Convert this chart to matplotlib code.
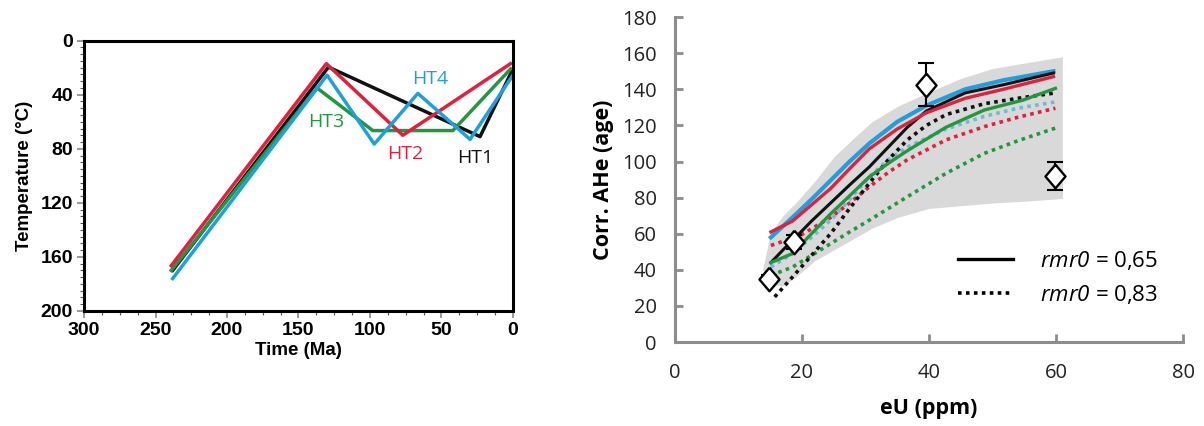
import matplotlib.pyplot as plt
import numpy as np
from matplotlib.ticker import MultipleLocator
from matplotlib.lines import Line2D

plt.rcParams['mathtext.fontset'] = 'custom'
plt.rcParams['mathtext.it'] = 'Open Sans:italic'
plt.rcParams['mathtext.rm'] = 'Open Sans:italic'

# ---- left panel: thermal histories (time in Ma, temperature in C)
ht1_t = [238, 129, 23, 0]
ht1_T = [170, 19.5, 71, 21]
ht2_t = [239, 130.5, 77, 1.7]
ht2_T = [166.5, 17, 70, 17]
ht3_t = [239, 137, 98, 42, 1.7]
ht3_T = [170, 35, 66.5, 66.5, 21]
ht4_t = [238, 130, 97, 66.5, 30, 0]
ht4_T = [176, 25.5, 76.5, 39, 73, 25.5]
ht_names = ['HT1', 'HT2', 'HT3', 'HT4']
ht_label_t = [26.5, 75.5, 130.5, 58]
ht_label_T = [87, 84, 60, 28]

# ---- right panel: corrected AHe age vs eU
band_x = [13.8, 15, 17, 19, 22, 25, 28, 31, 35, 40, 45, 50, 55, 61]
band_hi = [40, 60, 70, 77, 89, 102.5, 112.5, 122, 130.5, 138.5, 146, 151.5, 154.5, 158]
band_lo = [40, 32, 31, 36, 45, 51, 57, 63, 69, 74, 75.5, 77, 78, 79.5]

blue_x = [15.1, 18.5, 21.5, 24.5, 27.5, 30.6, 35, 39.6, 45.7, 51.7, 59.6]
blue_y = [58, 69, 79, 89.5, 100, 110, 122, 131, 140, 145, 150]
red_x = [15.1, 18.5, 21.5, 24.5, 27.5, 30.6, 35, 39.6, 45.7, 51.7, 59.6]
red_y = [61, 67, 76, 85, 96, 107, 118, 127, 135, 140, 147]
black_x = [15.1, 17, 19, 21.5, 24.5, 27.5, 30.6, 33.6, 36.6, 39.6, 45.7, 51.7, 59.6]
black_y = [44, 51, 58, 67, 77, 87, 97, 108, 119, 128, 138, 142.5, 149]
green_x = [15.1, 18.5, 21.5, 24.5, 27.5, 30.6, 33.6, 36.6, 42.7, 48.7, 54.8, 59.9]
green_y = [44, 49, 60, 71, 81, 91.5, 99, 106, 119, 128.5, 134, 140.5]

black_d_x = [15.7, 18.5, 21.5, 24.5, 27.5, 30.6, 33.6, 36.6, 39.6, 42.7, 48.7, 54, 59.9]
black_d_y = [25, 36, 48, 60, 74, 88, 101, 112, 120, 126, 132, 135, 138]
blue_d_x = [15.1, 18.5, 21.5, 24.5, 27.5, 30.6, 33.6, 36.6, 42.7, 48.7, 54, 59.9]
blue_d_y = [41.5, 49, 58, 67.5, 79, 91.5, 101, 108, 118, 125, 129.5, 133]
red_d_x = [15.1, 19.7, 24.5, 27.5, 30.6, 33.6, 36.6, 42.7, 48.7, 54, 59.9]
red_d_y = [53.5, 59, 69, 77, 86, 94, 101, 112, 119.3, 124.5, 129.5]
green_d_x = [15.1, 18.5, 21.5, 24.5, 27.5, 30.6, 36.6, 42.7, 48.7, 54, 59.9]
green_d_y = [37, 41.5, 48, 54.5, 61, 67.5, 80.5, 93.5, 104.5, 111.5, 118.5]

obs_eu = [14.8, 18.8, 39.6, 59.8]
obs_age = [35, 55.5, 142.5, 92]
obs_err = [2, 4, 12, 8]

c_black = '#111111'
c_red = '#e0203c'
c_green = '#23963f'
c_blue = '#1f9fdc'
c_lblue = '#72b9d6'

fig = plt.figure(figsize=(12.04, 4.26), dpi=100)

# ---------------- left
ax1 = fig.add_axes([0.0698, 0.270, 0.3562, 0.6345])
lw = 2.5
ax1.plot(ht1_t, ht1_T, color=c_black, lw=lw)
ax1.plot(ht3_t, ht3_T, color=c_green, lw=lw)
ax1.plot(ht2_t, ht2_T, color=c_red, lw=lw)
ax1.plot(ht4_t, ht4_T, color=c_blue, lw=lw)
for name, tt, TT, col in zip(ht_names, ht_label_t, ht_label_T, [c_black, c_red, c_green, c_blue]):
    ax1.text(tt, TT, name, color=col, fontsize=14, family='Open Sans', ha='center', va='center')
ax1.set_xlim(300, 0)
ax1.set_ylim(200, 0)
ax1.xaxis.set_major_locator(MultipleLocator(50))
ax1.xaxis.set_minor_locator(MultipleLocator(12.5))
ax1.yaxis.set_major_locator(MultipleLocator(40))
ax1.yaxis.set_minor_locator(MultipleLocator(5))
for s in ax1.spines.values():
    s.set_linewidth(2.2)
    s.set_color('black')
ax1.tick_params(which='major', length=5, width=1.2, color='#888888', direction='out')
ax1.tick_params(which='minor', length=3, width=0.8, color='#555555', direction='out')
ax1.tick_params(axis='both', labelsize=14, pad=3)
for lab in ax1.get_xticklabels() + ax1.get_yticklabels():
    lab.set_fontweight('bold')
    lab.set_family('Liberation Sans')
ax1.set_xlabel('Time (Ma)', fontsize=13.5, fontweight='bold', family='Liberation Sans', labelpad=2)
ax1.set_ylabel('Temperature (\u00b0C)', fontsize=13.5, fontweight='bold', family='Liberation Sans', labelpad=5)

# ---------------- right
ax2 = fig.add_axes([0.5606, 0.197, 0.4220, 0.763])
ax2.fill_between(band_x, band_lo, band_hi, color='#d9d9d9', lw=0, zorder=1)
dot = (0, (1, 1.2))
dlw = 2.6
ax2.plot(green_d_x, green_d_y, color=c_green, lw=dlw, ls=dot, zorder=2)
ax2.plot(red_d_x, red_d_y, color=c_red, lw=dlw, ls=dot, zorder=2)
ax2.plot(blue_d_x, blue_d_y, color=c_lblue, lw=dlw, ls=dot, zorder=2)
ax2.plot(black_d_x, black_d_y, color=c_black, lw=dlw, ls=dot, zorder=2)
slw = 2.4
ax2.plot(blue_x, blue_y, color=c_blue, lw=slw + 0.6, zorder=3)
ax2.plot(black_x, black_y, color=c_black, lw=2.2, zorder=3)
ax2.plot(red_x, red_y, color=c_red, lw=slw, zorder=3)
ax2.plot(green_x, green_y, color=c_green, lw=slw, zorder=3)
diamond = [(0, 1), (0.85, 0), (0, -1), (-0.85, 0), (0, 1)]
ax2.errorbar(obs_eu, obs_age, yerr=obs_err, fmt='none', ecolor='black', elinewidth=1.5,
             capsize=6, capthick=1.5, zorder=5)
ax2.plot(obs_eu, obs_age, ls='none', marker=diamond, ms=17, mfc='white', mec='black', mew=1.7, zorder=6)

ax2.set_xlim(0, 80)
ax2.set_ylim(0, 180)
ax2.xaxis.set_major_locator(MultipleLocator(20))
ax2.yaxis.set_major_locator(MultipleLocator(20))
ax2.spines['top'].set_visible(False)
ax2.spines['right'].set_visible(False)
for s in ['left', 'bottom']:
    ax2.spines[s].set_color('#8c8c8c')
    ax2.spines[s].set_linewidth(2.2)
ax2.tick_params(direction='in', length=6, width=2.0, color='#8c8c8c', labelsize=14.5)
ax2.tick_params(axis='x', pad=15)
ax2.tick_params(axis='y', pad=13)
for lab in ax2.get_xticklabels() + ax2.get_yticklabels():
    lab.set_family('Open Sans')
    lab.set_color('#222222')
ax2.set_xlabel('eU (ppm)', fontsize=15.5, fontweight='bold', family='Open Sans', labelpad=11)
ax2.set_ylabel('Corr. AHe (age)', fontsize=15.5, fontweight='bold', family='Open Sans', labelpad=6)

handles = [Line2D([], [], color='black', lw=2.4),
           Line2D([], [], color='black', lw=2.6, ls=dot)]
labels = [r'$\mathrm{rmr0}$ = 0,65', r'$\mathrm{rmr0}$ = 0,83']
leg = ax2.legend(handles, labels, loc='lower right', bbox_to_anchor=(0.99, 0.05), frameon=False,
                 prop={'family': 'Open Sans', 'size': 16}, handlelength=2.5, handletextpad=1.2,
                 labelspacing=0.5)

fig.savefig('out.png', dpi=100)
